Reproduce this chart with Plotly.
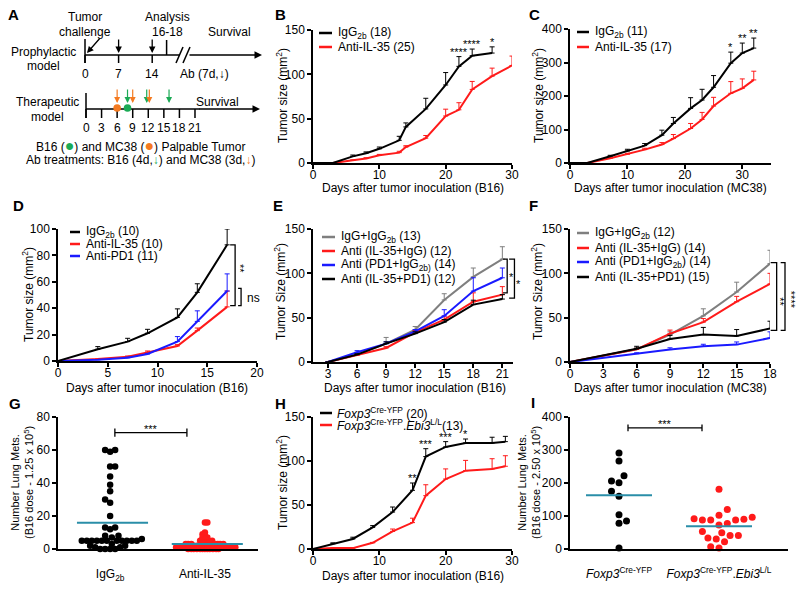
import numpy as np
import plotly.graph_objects as go

W, H = 800, 589
OFF = 0  # body margin is removed in the page (see write_html below)
FONT = "Liberation Sans, Arial, Helvetica, sans-serif"
RED = "#FF1A1A"
BLUE = "#1A1AFF"
GREY = "#7F7F7F"
TEAL = "#2A8EA8"
ORANGE = "#F47A20"
GREEN = "#1BAA55"

# ---------------- data ----------------
# A: schedule (days)
proph_ticks = [0, 7, 14]
proph_ab_days = [7, 14]
proph_analysis_day = 17
ther_ticks = [0, 3, 6, 9, 12, 15, 18, 21]
b16_palpable = 8
mc38_palpable = 6
b16_ab_days = [8, 12, 16]
mc38_ab_days = [6, 9, 12]

# B: B16, prophylactic
b_days_igg = [0, 3, 6, 8, 10, 13, 14, 17, 20, 22, 24, 27]
b_igg = [0, 0, 7.5, 11, 16, 25.6, 40.7, 61, 88, 109, 121, 124]
b_igg_err = [0, 0, 1.5, 1.5, 2, 4.5, 4.5, 12, 14, 11, 7.5, 7]
b_days_anti = [0, 3, 6, 8, 10, 13, 14, 17, 20, 22, 24, 27, 30]
b_anti = [0, 0, 3, 5, 8.7, 11.7, 18, 28, 53, 60, 83, 98, 110]
b_anti_err = [0, 0, 0.5, 1, 1, 1.5, 1.5, 3, 7.7, 8, 9, 9, 10.6]
b_star_days = [22, 24, 27]
b_star_text = ["****", "****", "*"]

# C: MC38, prophylactic
c_days = [0, 3, 7, 10, 13, 16, 18, 21, 23, 25, 28, 30, 32]
c_igg = [0, 0, 20, 36, 52, 83, 118, 163, 188, 226, 298, 328, 343]
c_igg_err = [0, 0, 3, 5, 6, 15, 18, 32, 32, 35, 33, 30, 30]
c_anti = [0, 0, 14, 26, 40, 55, 73, 103, 130, 170, 208, 223, 248]
c_anti_err = [0, 0, 2, 3, 4, 6, 12, 15, 21, 26, 35, 28, 26]
c_star_days = [28, 30, 32]
c_star_text = ["*", "**", "**"]

# D: B16, therapeutic
d_days = [0, 4, 7, 9, 12, 14, 17]
d_igg = [0, 8.9, 14.7, 21, 33, 52, 88]
d_igg_err = [0, 2, 2.5, 3, 6.5, 6.5, 12]
d_anti = [0, 1.5, 3.3, 6.6, 11.4, 23, 41]
d_anti_err = [0, 0, 0.5, 1, 1, 2, 12]
d_pd1 = [0, 1, 2.5, 5.3, 14.7, 30, 53]
d_pd1_err = [0, 0, 0.5, 0.5, 3.8, 8, 13]

# E: B16 combination
e_days = [3, 6, 9, 12, 15, 18, 21]
e_igg = [0, 8.3, 20.7, 36.5, 70, 96, 116]
e_igg_err = [0, 1.5, 7, 3.5, 7, 10, 14]
e_il35 = [0, 7.5, 15.8, 33.5, 47.7, 68, 76]
e_il35_err = [0, 1, 1.5, 2, 4, 10, 9]
e_pd1 = [0, 11, 20.7, 34.6, 52, 80, 95]
e_pd1_err = [0, 1.8, 2, 2, 7, 15, 11]
e_combo = [0, 8.3, 20.7, 32, 45, 64.7, 71]
e_combo_err = [0, 1, 2, 2, 3, 5, 5]

# F: MC38 combination
f_days = [0, 6, 9, 12, 15, 18]
f_igg = [0, 14.3, 31, 52, 79, 111]
f_igg_err = [0, 2, 3, 8, 11, 15]
f_il35 = [0, 14.3, 32, 45, 68, 88]
f_il35_err = [0, 1, 4, 4, 6, 12]
f_pd1 = [0, 9.4, 14, 17.7, 19.6, 27]
f_pd1_err = [0, 1, 2, 2.3, 3, 7]
f_combo = [0, 15, 26, 31, 29.4, 37.7]
f_combo_err = [0, 2.7, 4, 8, 7.2, 8.3]

# G: lung metastases (1.25 x 10^5 B16)
g_igg = [60, 59, 60, 50, 50, 44, 39, 35, 30, 28, 20, 13, 13, 12, 8, 8, 7, 6,
         5, 5, 5, 5, 5, 5, 5, 5, 5, 5, 5, 3, 2, 2, 1, 1, 0, 0, 0, 0]
g_anti = [16, 16, 10, 9, 8, 7, 7, 6, 5, 5, 4, 4, 4, 4, 3, 3, 3, 3, 3, 3, 3,
          2, 2, 2, 2, 2, 2, 2, 2, 1, 1, 1, 1, 1, 1, 1, 1, 1, 1,
          0, 0, 0, 0, 0, 0, 0, 0, 0, 0, 0, 0]

# H: Foxp3 vs Ebi3 KO
h_days = [0, 3, 6, 9, 12, 15, 17, 20, 23, 27, 29]
h_wt = [0, 6, 11.4, 24.6, 42, 66.7, 105, 116, 120.5, 120.5, 122]
h_wt_err = [0, 1, 2, 2, 5.7, 8.3, 9, 6, 4.5, 6.5, 6]
h_ko = [0, 1, 1, 7, 20, 30, 60.6, 79.5, 89, 91, 94]
h_ko_err = [0, 0, 0, 0.5, 2.7, 5, 12.4, 11.5, 11.7, 11.6, 12]
h_star_days = [15, 17, 20, 23]
h_star_text = ["**", "***", "***", "*"]

# I: lung metastases (2.50 x 10^5 B16)
i_wt = [291, 267, 206, 201, 222, 175, 160, 104, 85, 78, 3]
i_ko = [181, 120, 102, 92, 88, 88, 96, 90, 88, 77, 73, 53, 41, 33, 30, 41, 49, 22, 7, 3]

g_cats = ["IgG<sub>2b</sub>", "Anti-IL-35"]
i_cats = ["<i>Foxp3</i><sup>Cre-YFP</sup>", "<i>Foxp3</i><sup>Cre-YFP</sup>.<i>Ebi3</i><sup>L/L</sup>"]

# ---------------- panels (pixel boxes in the reference) ----------------
panels = {
    "B": dict(px=(313, 512), py=(30, 163), xr=(0, 30), yr=(0, 150), xt=[0, 10, 20, 30], yt=[0, 50, 100, 150]),
    "C": dict(px=(570, 771), py=(29, 163), xr=(0, 35), yr=(0, 400), xt=[0, 10, 20, 30], yt=[0, 100, 200, 300, 400]),
    "D": dict(px=(58, 257), py=(229, 361), xr=(0, 20), yr=(0, 100), xt=[0, 5, 10, 15, 20], yt=[0, 20, 40, 60, 80, 100]),
    "E": dict(px=(313, 513), py=(229, 362), xr=(1.45, 22.1), yr=(0, 150), xt=[3, 6, 9, 12, 15, 18, 21], yt=[0, 50, 100, 150]),
    "F": dict(px=(570, 770), py=(229, 362), xr=(0, 18), yr=(0, 150), xt=[0, 3, 6, 9, 12, 15, 18], yt=[0, 50, 100, 150]),
    "G": dict(px=(58, 258), py=(417, 549), xr=(-0.55, 1.56), yr=(0, 80), xt=[0, 1], yt=[0, 20, 40, 60, 80], xtt=g_cats),
    "H": dict(px=(313, 512), py=(417, 549), xr=(0, 30), yr=(0, 150), xt=[0, 10, 20, 30], yt=[0, 50, 100, 150]),
    "I": dict(px=(570, 788), py=(417, 549), xr=(-0.49, 1.69), yr=(0, 400), xt=[0, 1], yt=[0, 100, 200, 300, 400], xtt=i_cats),
}

fig = go.Figure()
axis_style = dict(showline=True, linecolor="black", linewidth=1.5, ticks="outside", ticklen=4,
                  tickwidth=1.5, tickcolor="black", showgrid=False, zeroline=False, automargin=False,
                  tickfont=dict(size=12, color="black"), fixedrange=True)
axes = {}
for i, (k, p) in enumerate(panels.items(), start=1):
    s = "" if i == 1 else str(i)
    p["x"], p["y"] = "x" + s, "y" + s
    x0, x1 = p["px"]
    y0, y1 = p["py"]
    xa = dict(axis_style, domain=[(x0 - OFF) / W, (x1 - OFF) / W], range=list(p["xr"]), anchor="y" + s,
              tickvals=p["xt"], ticklabelstandoff=-4)
    if "xtt" in p:
        xa.update(ticktext=p["xtt"], ticks="", ticklabelstandoff=13)
    ya = dict(axis_style, domain=[1 - (y1 - OFF) / H, 1 - (y0 - OFF) / H], range=list(p["yr"]),
              anchor="x" + s, tickvals=p["yt"])
    axes["xaxis" + s] = xa
    axes["yaxis" + s] = ya
fig.update_layout(**axes)


def P(x, y):
    return (x - OFF) / W, 1 - (y - OFF) / H


def to_px(k, x, y):
    p = panels[k]
    x0, x1 = p["px"]
    y0, y1 = p["py"]
    fx = (x - p["xr"][0]) / (p["xr"][1] - p["xr"][0])
    fy = (y - p["yr"][0]) / (p["yr"][1] - p["yr"][0])
    return x0 + fx * (x1 - x0), y1 - fy * (y1 - y0)


def text(x, y, t, size=12, **kw):
    px_, py_ = P(x, y)
    kw.setdefault("xanchor", "center")
    kw.setdefault("yanchor", "middle")
    col = kw.pop("color", "black")
    fig.add_annotation(xref="paper", yref="paper", x=px_, y=py_, text=t, showarrow=False,
                       font=dict(size=size, color=col, family=FONT), **kw)


def line(x0, y0, x1, y1, color="black", width=1.5):
    a, b = P(x0, y0)
    c, d = P(x1, y1)
    fig.add_shape(type="line", xref="paper", yref="paper", x0=a, y0=b, x1=c, y1=d,
                  line=dict(color=color, width=width))


def arrow(xh, yh, dx, dy, color="black", width=1.3, head=2, size=1.0):
    a, b = P(xh, yh)
    fig.add_annotation(xref="paper", yref="paper", x=a, y=b, ax=dx, ay=dy, text="", showarrow=True,
                       arrowhead=head, arrowsize=size, arrowwidth=width, arrowcolor=color)


def curve(k, x, y, err, color, width=2):
    fig.add_trace(go.Scatter(
        x=x, y=y, mode="lines", line=dict(color=color, width=width), cliponaxis=False,
        error_y=dict(type="data", symmetric=False, array=err, arrayminus=[0] * len(err),
                     color=color, thickness=1, width=2.5),
        xaxis=panels[k]["x"], yaxis=panels[k]["y"], showlegend=False, hoverinfo="skip"))


def stars(k, days, labels, xs, tops, lift=5, size=11):
    for d, lab in zip(days, labels):
        idx = list(xs).index(d)
        px_, py_ = to_px(k, d, tops[idx])
        text(px_, py_ - lift, lab, size=size)


def bracket(k, xt, xb, ytop, ybot):
    a = to_px(k, xt, ytop)
    b = to_px(k, xb, ytop)
    c = to_px(k, xb, ybot)
    d = to_px(k, xt, ybot)
    pts = [P(*a), P(*b), P(*c), P(*d)]
    path = "M " + " L ".join(f"{u:.5f},{v:.5f}" for u, v in pts)
    fig.add_shape(type="path", xref="paper", yref="paper", path=path, line=dict(color="black", width=1.3))


def legend(x0, x1, xt, ys, items):
    for y, (lab, col) in zip(ys, items):
        line(x0, y, x1, y, color=col, width=2.5)
        text(xt, y, lab, size=12, xanchor="left")


def swarm(values, k, diam):
    p = panels[k]
    ypx = (p["py"][1] - p["py"][0]) / (p["yr"][1] - p["yr"][0])
    xpx = (p["px"][1] - p["px"][0]) / (p["xr"][1] - p["xr"][0])
    vals = np.asarray(values, float)
    order = np.argsort(vals, kind="stable")
    placed = []
    offs = np.zeros(len(vals))
    step = diam / 3
    flip = 1
    for i in order:
        y = vals[i] * ypx
        found = None
        for n in range(400):
            cands = [0.0] if n == 0 else [flip * n * step, -flip * n * step]
            for o in cands:
                if all((o - a) ** 2 + (y - b) ** 2 >= diam ** 2 for a, b in placed):
                    found = o
                    break
            if found is not None:
                break
        flip = -flip
        placed.append((found, y))
        offs[i] = found / xpx
    return offs


# ---------------- A: schematic ----------------
text(13, 14, "<b>A</b>", size=15)
pd_x = lambda d: 85 + 4.8 * d
th_x = lambda d: 86 + 5.19 * d
text(85, 17, "Tumor")
text(85, 32, "challenge")
text(167, 17, "Analysis")
text(167, 32, "16-18")
text(230, 32, "Survival")
text(43, 52, "Prophylactic")
text(43, 66, "model")
arrow(87, 53, 14, -16)
line(pd_x(0), 55, 180, 55)
arrow(262, 55, -74, 0, width=1.5)
line(pd_x(0), 39, pd_x(0), 63)
for d in proph_ticks:
    line(pd_x(d), 55, pd_x(d), 63)
    text(pd_x(d), 74, str(d))
for d in proph_ab_days:
    arrow(pd_x(d), 53, 0, -15)
line(pd_x(proph_analysis_day), 40, pd_x(proph_analysis_day), 55)
line(176, 63, 183, 47)
line(183, 63, 190, 47)
text(205, 74, "Ab (7d,<b>↓</b>)")

text(47, 102, "Therapeutic")
text(47, 117, "model")
text(217, 102, "Survival")
line(th_x(0), 109, 200, 109)
arrow(260, 109, -62, 0, width=1.5)
line(th_x(0), 93, th_x(0), 118)
for d in ther_ticks:
    line(th_x(d), 109, th_x(d), 118)
    text(th_x(d), 128, str(d))
for d, col in ((mc38_palpable, ORANGE), (b16_palpable, GREEN)):
    cx, cy = P(th_x(d), 108)
    r = 3.8
    fig.add_shape(type="circle", xref="paper", yref="paper", x0=cx - r / W, x1=cx + r / W,
                  y0=cy - r / H, y1=cy + r / H, fillcolor=col, line=dict(color=col, width=0))
for d in b16_ab_days:
    shift = -0.3 if d in mc38_ab_days else 0
    arrow(th_x(d + shift), 103, 0, -15, color=GREEN, width=1.2)
for d in mc38_ab_days:
    shift = 0.2 if d in b16_ab_days else 0
    arrow(th_x(d + shift), 103, 0, -15, color=ORANGE, width=1.2)
dot = '<span style="color:{};font-size:16px">●</span>'
darr = '<span style="color:{}"><b>↓</b></span>'
text(140, 145, f"B16 ({dot.format(GREEN)}) and MC38 ({dot.format(ORANGE)}) Palpable Tumor")
text(140, 160, f"Ab treatments: B16 (4d,{darr.format(GREEN)}) and MC38 (3d,{darr.format(ORANGE)})")

# ---------------- B ----------------
curve("B", b_days_anti, b_anti, b_anti_err, RED)
curve("B", b_days_igg, b_igg, b_igg_err, "black")
stars("B", b_star_days, b_star_text, b_days_igg, [m + e for m, e in zip(b_igg, b_igg_err)])
legend(319, 332, 336, [33, 47], [("IgG<sub>2b</sub> (18)", "black"), ("Anti-IL-35 (25)", RED)])

# ---------------- C ----------------
curve("C", c_days, c_anti, c_anti_err, RED)
curve("C", c_days, c_igg, c_igg_err, "black")
stars("C", c_star_days, c_star_text, c_days, [m + e for m, e in zip(c_igg, c_igg_err)])
legend(577, 589, 593, [32, 47], [("IgG<sub>2b</sub> (11)", "black"), ("Anti-IL-35 (17)", RED)])

# ---------------- D ----------------
curve("D", d_days, d_anti, d_anti_err, RED)
curve("D", d_days, d_pd1, d_pd1_err, BLUE)
curve("D", d_days, d_igg, d_igg_err, "black")
legend(70, 80, 84, [232, 244, 256], [("IgG<sub>2b</sub> (10)", "black"), ("Anti-IL-35 (10)", RED),
                                     ("Anti-PD1 (11)", BLUE)])
bracket("D", 17.3, 17.8, d_igg[-1], d_anti[-1] + 1)
bracket("D", 18.1, 18.4, d_pd1[-1] + 2, d_anti[-1] + 1)
xx, yy = to_px("D", 18.35, 70)
text(xx, yy, "**", size=11, textangle=90)
xx, yy = to_px("D", 19.6, 48)
text(xx, yy, "ns", size=12)

# ---------------- E ----------------
curve("E", e_days, e_igg, e_igg_err, GREY)
curve("E", e_days, e_il35, e_il35_err, RED)
curve("E", e_days, e_pd1, e_pd1_err, BLUE)
curve("E", e_days, e_combo, e_combo_err, "black")
legend(322, 335, 339, [237, 251, 265, 279],
       [("IgG+IgG<sub>2b</sub> (13)", GREY), ("Anti (IL-35+IgG) (12)", RED),
        ("Anti (PD1+IgG<sub>2b)</sub> (14)", BLUE), ("Anti (IL-35+PD1) (12)", "black")])
bracket("E", 21.07, 21.5, e_igg[-1], e_il35[-1] + 2)
bracket("E", 21.7, 22.25, e_igg[-1], e_combo[-1] + 1)
xx, yy = to_px("E", 21.9, 96)
text(xx, yy, "*", size=11)
xx, yy = to_px("E", 22.7, 88)
text(xx, yy, "*", size=11)

# ---------------- F ----------------
curve("F", f_days, f_igg, f_igg_err, GREY)
curve("F", f_days, f_il35, f_il35_err, RED)
curve("F", f_days, f_pd1, f_pd1_err, BLUE)
curve("F", f_days, f_combo, f_combo_err, "black")
legend(577, 589, 593, [233, 248, 262, 277],
       [("IgG+IgG<sub>2b</sub> (12)", GREY), ("Anti (IL-35+IgG) (14)", RED),
        ("Anti (PD1+IgG<sub>2b</sub>) (14)", BLUE), ("Anti (IL-35+PD1) (15)", "black")])
bracket("F", 18.06, 18.6, f_igg[-1] + 1, f_combo[-1] - 2)
bracket("F", 18.96, 19.35, f_igg[-1] + 1, f_combo[-1] - 2)
xx, yy = to_px("F", 18.95, 68)
text(xx, yy, "**", size=11, textangle=90)
xx, yy = to_px("F", 19.9, 70)
text(xx, yy, "****", size=11, textangle=90)

# ---------------- G ----------------
for pos, vals, col, diam in ((0, g_igg, "black", 5.0), (1, g_anti, RED, 2.4)):
    offs = swarm(vals, "G", diam)
    fig.add_trace(go.Scatter(x=pos + offs, y=vals, mode="markers", cliponaxis=False,
                             marker=dict(size=6.5, color=col, line=dict(width=0)),
                             xaxis=panels["G"]["x"], yaxis=panels["G"]["y"], showlegend=False, hoverinfo="skip"))
    m = float(np.mean(vals))
    fig.add_trace(go.Scatter(x=[pos - 0.35, pos + 0.4], y=[m, m], mode="lines", line=dict(color=TEAL, width=2),
                             xaxis=panels["G"]["x"], yaxis=panels["G"]["y"], showlegend=False, hoverinfo="skip"))
gx, gy = panels["G"]["x"], panels["G"]["y"]
fig.add_shape(type="line", xref=gx, yref=gy, x0=0.05, x1=0.81, y0=70.5, y1=70.5, line=dict(color="black", width=1.3))
fig.add_shape(type="line", xref=gx, yref=gy, x0=0.05, x1=0.05, y0=68, y1=73, line=dict(color="black", width=1.3))
fig.add_shape(type="line", xref=gx, yref=gy, x0=0.81, x1=0.81, y0=68, y1=73, line=dict(color="black", width=1.3))
xx, yy = to_px("G", 0.43, 73)
text(xx, yy, "***", size=11)

# ---------------- H ----------------
curve("H", h_days, h_ko, h_ko_err, RED)
curve("H", h_days, h_wt, h_wt_err, "black")
stars("H", h_star_days, h_star_text, h_days, [m + e for m, e in zip(h_wt, h_wt_err)])
legend(320, 332, 335, [413, 425],
       [("<i>Foxp3</i><sup>Cre-YFP</sup> (20)", "black"),
        ("<i>Foxp3</i><sup>Cre-YFP</sup>.<i>Ebi3</i><sup>L/L</sup>(13)", RED)])

# ---------------- I ----------------
for pos, vals, col, diam in ((0, i_wt, "black", 7.5), (1, i_ko, RED, 8.3)):
    offs = swarm(vals, "I", diam)
    fig.add_trace(go.Scatter(x=pos + offs, y=vals, mode="markers", cliponaxis=False,
                             marker=dict(size=7, color=col, line=dict(width=0)),
                             xaxis=panels["I"]["x"], yaxis=panels["I"]["y"], showlegend=False, hoverinfo="skip"))
    m = float(np.mean(vals))
    fig.add_trace(go.Scatter(x=[pos - 0.33, pos + 0.33], y=[m, m], mode="lines", line=dict(color=TEAL, width=2),
                             xaxis=panels["I"]["x"], yaxis=panels["I"]["y"], showlegend=False, hoverinfo="skip"))
ix, iy = panels["I"]["x"], panels["I"]["y"]
fig.add_shape(type="line", xref=ix, yref=iy, x0=0.09, x1=0.83, y0=367, y1=367, line=dict(color="black", width=1.3))
fig.add_shape(type="line", xref=ix, yref=iy, x0=0.09, x1=0.09, y0=357, y1=377, line=dict(color="black", width=1.3))
fig.add_shape(type="line", xref=ix, yref=iy, x0=0.83, x1=0.83, y0=357, y1=377, line=dict(color="black", width=1.3))
xx, yy = to_px("I", 0.46, 378)
text(xx, yy, "***", size=11)

# ---------------- axis titles & panel letters ----------------
size_title = "Tumor size (mm<sup>2</sup>)"
size_title2 = "Tumor Size (mm<sup>2</sup>)"
for x, y, t in ((282, 96, size_title), (538, 96, size_title), (28, 295, size_title),
                (280, 292, size_title2), (537, 292, size_title2), (282, 483, size_title)):
    text(x, y, t, size=12, textangle=-90)
text(22, 483, "Number Lung Mets.<br>(B16 dose - 1.25 x 10<sup>5</sup>)", size=11, textangle=-90)
text(529, 483, "Number Lung Mets.<br>(B16 dose - 2.50 x 10<sup>5</sup>)", size=11, textangle=-90)
for x, y, t in ((413, 188, "Days after tumor inoculation (B16)"), (670, 188, "Days after tumor inoculation (MC38)"),
                (157, 388, "Days after tumor inoculation (B16)"), (415, 388, "Days after tumor inoculation (B16)"),
                (670, 388, "Days after tumor inoculation (MC38)"), (413, 576, "Days after tumor inoculation (B16)")):
    text(x, y, t, size=12)
for x, y, t in ((280, 14, "B"), (534, 14, "C"), (18, 205, "D"), (278, 205, "E"), (533, 205, "F"),
                (15, 403, "G"), (280, 403, "H"), (533, 402, "I")):
    text(x, y, f"<b>{t}</b>", size=15)

fig.update_layout(width=W, height=H, margin=dict(l=0, r=0, t=0, b=0, pad=0, autoexpand=False),
                  plot_bgcolor="white", paper_bgcolor="white", template="none",
                  font=dict(family=FONT, color="black", size=12), showlegend=False)
fig.write_html("out.html", config={"displayModeBar": False},
               post_script="document.body.style.margin='0';document.body.style.overflow='hidden';")
